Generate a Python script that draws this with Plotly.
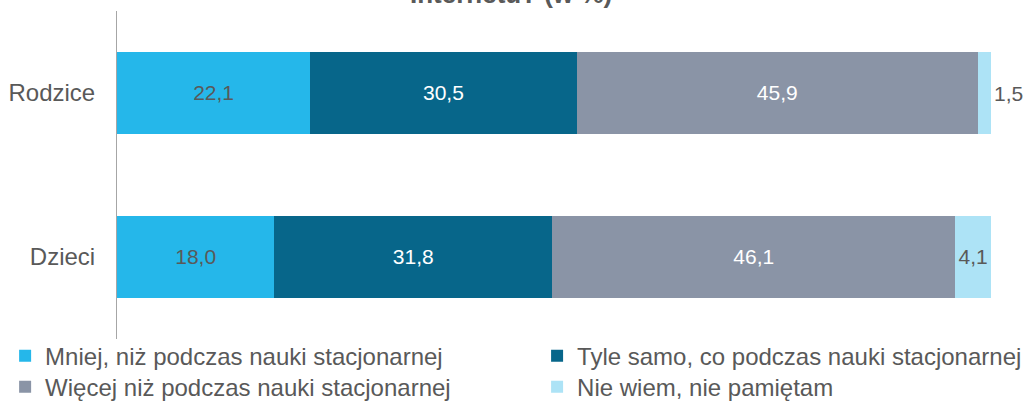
import plotly.graph_objects as go

categories = ["Rodzice", "Dzieci"]
series_names = [
    "Mniej, niż podczas nauki stacjonarnej",
    "Tyle samo, co podczas nauki stacjonarnej",
    "Więcej niż podczas nauki stacjonarnej",
    "Nie wiem, nie pamiętam",
]
mniej = [22.1, 18.0]
tyle_samo = [30.5, 31.8]
wiecej = [45.9, 46.1]
nie_wiem = [1.5, 4.1]
title_text = "Internetu? (w %)"

COLORS = ["#25B7EA", "#07668A", "#8A94A6", "#ADE3F6"]
TEXT_COLORS = ["#595959", "white", "white", "#595959"]
FONT = "Liberation Sans, Arial, sans-serif"

# one legend per entry so the 2x2 legend grid can be placed like the original
LEGEND_IDS = ["legend", "legend2", "legend3", "legend4"]
LEGEND_POS = [(0.005, 0.114), (0.5245, 0.114), (0.005, 0.037), (0.5245, 0.037)]

fig = go.Figure()
for i, (name, vals) in enumerate(zip(series_names, [mniej, tyle_samo, wiecej, nie_wiem])):
    is_last = i == len(series_names) - 1
    fig.add_trace(go.Bar(
        name=name,
        y=categories,
        x=vals,
        orientation="h",
        legend=LEGEND_IDS[i],
        showlegend=True,
        marker=dict(color=COLORS[i], line=dict(width=0)),
        texttemplate="%{x:.1f}",
        textposition=["outside", "inside"] if is_last else "inside",
        insidetextanchor="middle",
        textangle=0,
        textfont=dict(color=TEXT_COLORS[i], size=23, family=FONT),
        outsidetextfont=dict(color="#595959", size=21, family=FONT),
        cliponaxis=False,
    ))

legends = {}
for lid, (lx, ly) in zip(LEGEND_IDS, LEGEND_POS):
    legends[lid] = dict(xref="container", yref="container", x=lx, y=ly,
                        xanchor="left", yanchor="middle", bgcolor="rgba(0,0,0,0)",
                        font=dict(size=24, color="#595959", family=FONT))

fig.update_layout(
    barmode="stack",
    bargap=0.5,
    separators=", ",
    width=1024,
    height=402,
    showlegend=True,
    margin=dict(l=117, r=33, t=11, b=63, autoexpand=False),
    paper_bgcolor="white",
    plot_bgcolor="white",
    font=dict(family=FONT, size=23, color="#595959"),
    uniformtext=dict(minsize=21, mode="show"),
    xaxis=dict(range=[0, 100], visible=False, fixedrange=True),
    yaxis=dict(autorange="reversed", showline=True, linecolor="#A6A6A6", linewidth=1,
               ticks="", showgrid=False, ticklabelstandoff=16, automargin=False,
               tickfont=dict(size=24, color="#595959")),
    **legends,
)

# the title sits partly above the top edge in the original
fig.add_annotation(text="<b>" + title_text + "</b>", xref="paper", yref="paper",
                   x=0.451, y=1, xanchor="center", yanchor="bottom", showarrow=False,
                   font=dict(size=26, color="#595959", family=FONT))

# drop the browser's default page margin so the figure sits at 0,0
fig.write_html("out.html", config={"displayModeBar": False},
               post_script="document.body.style.margin='0';")
